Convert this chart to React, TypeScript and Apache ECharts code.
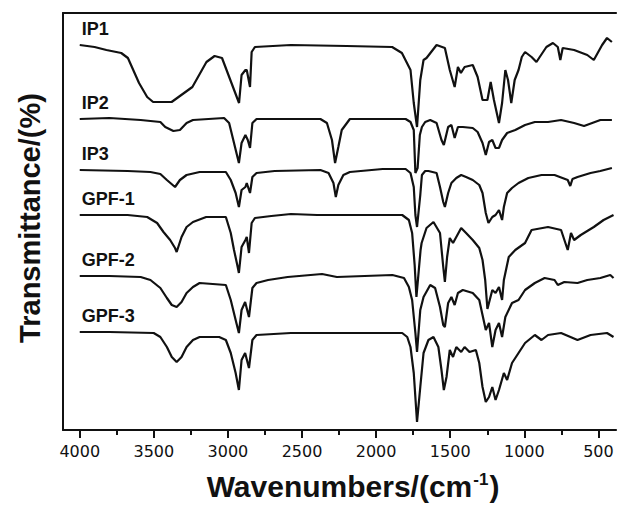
import React, { useEffect, useRef } from "react";
import * as echarts from "echarts";

// Wavenumber (cm^-1) vs stacked transmittance (arbitrary offset units)
const IP1: [number, number][] = [
  [4000, 385], [3900, 383], [3820, 380], [3720, 377], [3675, 372], [3600, 347], [3545, 333], [3505, 328],
  [3380, 328], [3240, 343], [3145, 368], [3090, 374], [3040, 372], [2925, 327], [2908, 355],
  [2882, 360], [2873, 360], [2851, 343], [2840, 378], [2818, 383], [2575, 385], [2200, 384],
  [1892, 383], [1826, 377], [1768, 360], [1746, 327], [1724, 303], [1702, 350], [1680, 370],
  [1660, 372], [1592, 385], [1536, 382], [1503, 360], [1470, 343], [1448, 363], [1428, 357],
  [1403, 363], [1348, 365], [1315, 353], [1282, 330], [1249, 330], [1227, 348], [1205, 330],
  [1171, 307], [1150, 327], [1128, 360], [1110, 350], [1088, 327], [1065, 350], [1039, 360],
  [1017, 373], [995, 378], [951, 373], [918, 368], [896, 373], [851, 383], [807, 387],
  [774, 383], [757, 370], [741, 382], [664, 380], [575, 375], [531, 370], [475, 385],
  [442, 392], [409, 388],
];

const IP2: [number, number][] = [
  [4000, 311], [3800, 312], [3589, 310], [3456, 308], [3423, 303], [3368, 299], [3324, 300],
  [3279, 307], [3236, 310], [3026, 312], [2992, 307], [2959, 287], [2926, 267], [2908, 287],
  [2882, 295], [2866, 290], [2851, 282], [2835, 307], [2807, 311], [2376, 311], [2332, 307],
  [2298, 290], [2277, 267], [2255, 283], [2232, 300], [2177, 311], [1801, 311], [1768, 308],
  [1746, 300], [1735, 257], [1720, 262], [1705, 295], [1691, 303], [1669, 308], [1635, 310],
  [1592, 307], [1559, 290], [1543, 285], [1514, 303], [1492, 305], [1470, 292], [1448, 303],
  [1415, 303], [1348, 302], [1315, 298], [1282, 287], [1260, 275], [1238, 288], [1216, 290],
  [1194, 282], [1171, 282], [1150, 290], [1116, 297], [1061, 300], [995, 305], [929, 308],
  [840, 308], [752, 310], [664, 307], [597, 304], [487, 310], [409, 310],
];

const IP3: [number, number][] = [
  [4000, 260], [3677, 259], [3523, 258], [3456, 256], [3412, 250], [3357, 243], [3324, 250],
  [3279, 255], [3191, 258], [3014, 258], [2981, 250], [2948, 237], [2926, 223], [2908, 240],
  [2882, 243], [2873, 247], [2851, 237], [2835, 253], [2807, 257], [2685, 259], [2376, 260],
  [2321, 257], [2288, 247], [2272, 233], [2255, 245], [2221, 255], [2177, 258], [1956, 261],
  [1801, 261], [1768, 257], [1746, 243], [1735, 215], [1724, 203], [1702, 235], [1691, 255],
  [1669, 259], [1647, 259], [1592, 257], [1569, 243], [1547, 228], [1536, 223], [1514, 237],
  [1492, 247], [1459, 252], [1426, 255], [1393, 253], [1348, 250], [1304, 245], [1282, 237],
  [1260, 217], [1242, 207], [1216, 213], [1194, 215], [1171, 220], [1150, 210], [1138, 223],
  [1116, 237], [1083, 242], [1039, 247], [973, 252], [884, 255], [796, 255], [707, 250],
  [690, 244], [675, 251], [641, 253], [553, 257], [487, 259], [409, 262],
];

const GPF1: [number, number][] = [
  [4000, 215], [3677, 215], [3545, 213], [3478, 207], [3435, 198], [3390, 190], [3357, 182],
  [3346, 178], [3313, 193], [3279, 203], [3236, 208], [3147, 213], [3014, 213], [2981, 197],
  [2959, 180], [2937, 165], [2926, 157], [2908, 183], [2882, 190], [2873, 193], [2858, 177],
  [2840, 207], [2818, 212], [2707, 214], [2575, 216], [2398, 215], [1824, 215], [1779, 210],
  [1757, 197], [1740, 165], [1728, 133], [1712, 160], [1700, 180], [1693, 187], [1660, 202],
  [1613, 208], [1569, 197], [1547, 163], [1536, 148], [1521, 173], [1503, 192], [1481, 187],
  [1459, 193], [1426, 202], [1393, 197], [1348, 190], [1304, 182], [1282, 170], [1264, 150],
  [1249, 121], [1216, 140], [1194, 137], [1171, 143], [1150, 130], [1138, 150], [1105, 173],
  [1061, 180], [995, 187], [951, 200], [840, 203], [752, 200], [707, 180], [685, 197],
  [664, 190], [619, 195], [531, 203], [465, 210], [398, 215],
];

const GPF2: [number, number][] = [
  [4000, 154], [3800, 154], [3589, 153], [3523, 150], [3456, 142], [3412, 132], [3379, 125],
  [3346, 123], [3313, 128], [3279, 137], [3236, 143], [3191, 147], [3014, 145], [2981, 130],
  [2948, 110], [2926, 97], [2908, 120], [2884, 128], [2858, 113], [2835, 142], [2807, 147],
  [2729, 150], [2597, 153], [2365, 156], [2265, 153], [1890, 155], [1812, 152], [1779, 143],
  [1757, 130], [1735, 97], [1724, 78], [1702, 120], [1680, 133], [1635, 145], [1602, 142],
  [1569, 123], [1547, 105], [1536, 103], [1514, 127], [1492, 133], [1470, 125], [1448, 137],
  [1415, 140], [1348, 137], [1304, 130], [1282, 115], [1260, 100], [1238, 107], [1216, 83],
  [1194, 100], [1171, 107], [1150, 93], [1128, 113], [1083, 127], [1039, 130], [995, 140],
  [929, 147], [863, 152], [796, 150], [774, 145], [730, 148], [641, 147], [575, 150],
  [487, 152], [420, 155], [398, 152],
];

const GPF3: [number, number][] = [
  [4000, 98], [3800, 98], [3501, 97], [3456, 93], [3412, 83], [3379, 73], [3346, 68],
  [3313, 73], [3279, 83], [3236, 90], [3191, 93], [3059, 93], [3014, 90], [2981, 77],
  [2948, 57], [2926, 40], [2908, 70], [2884, 77], [2858, 62], [2835, 90], [2807, 95],
  [2575, 97], [2111, 97], [1824, 97], [1790, 93], [1768, 83], [1746, 57], [1724, 8],
  [1702, 43], [1680, 77], [1647, 90], [1613, 93], [1580, 83], [1559, 60], [1543, 40],
  [1525, 53], [1503, 80], [1481, 73], [1459, 83], [1426, 78], [1403, 83], [1370, 78],
  [1327, 80], [1304, 67], [1282, 43], [1260, 28], [1238, 33], [1216, 43], [1194, 30],
  [1171, 40], [1138, 57], [1116, 50], [1083, 67], [1039, 77], [995, 87], [929, 95],
  [884, 90], [840, 95], [752, 97], [641, 90], [553, 95], [442, 97], [398, 93],
];

const SERIES_NAMES = ["IP1", "IP2", "IP3", "GPF-1", "GPF-2", "GPF-3"];
const SERIES_DATA = [IP1, IP2, IP3, GPF1, GPF2, GPF3];

const MAJOR_TICKS = [4000, 3500, 3000, 2500, 2000, 1500, 1000, 500];
const MINOR_TICKS = [3750, 3250, 2750, 2250, 1750, 1250, 750];

const X_MIN = 381;
const X_MAX = 4113;
const Y_MIN = 0;
const Y_MAX = 417;

export default function App() {
  const ref = useRef<HTMLDivElement>(null);

  useEffect(() => {
    if (!ref.current) return;
    const chart = echarts.init(ref.current, undefined, { renderer: "svg" });
    const ink = "#111";
    const baseX = {
      type: "value" as const,
      min: X_MIN,
      max: X_MAX,
      inverse: true,
      gridIndex: 0,
      splitLine: { show: false },
    };
    chart.setOption({
      animation: false,
      backgroundColor: "#fff",
      grid: { left: 63, top: 13, right: 0, bottom: 77, containLabel: false },
      xAxis: [
        {
          ...baseX,
          position: "bottom",
          axisLine: { show: true, onZero: false, lineStyle: { color: ink, width: 2 } },
          axisTick: { show: true, inside: false, length: 8, customValues: MAJOR_TICKS, lineStyle: { color: ink, width: 2 } },
          axisLabel: {
            show: true,
            customValues: MAJOR_TICKS,
            formatter: (v: number) => String(v),
            margin: 13,
            color: ink,
            fontSize: 16,
            fontFamily: "DejaVu Sans",
          },
        },
        {
          ...baseX,
          position: "bottom",
          axisLine: { show: false },
          axisTick: { show: true, inside: false, length: 5, customValues: MINOR_TICKS, lineStyle: { color: ink, width: 2 } },
          axisLabel: { show: false },
        },
        {
          ...baseX,
          position: "top",
          axisLine: { show: true, onZero: false, lineStyle: { color: ink, width: 2 } },
          axisTick: { show: false },
          axisLabel: { show: false },
        },
      ],
      yAxis: {
        type: "value",
        min: Y_MIN,
        max: Y_MAX,
        axisLine: { show: true, onZero: false, lineStyle: { color: ink, width: 2 } },
        axisTick: { show: false },
        axisLabel: { show: false },
        splitLine: { show: false },
      },
      series: SERIES_NAMES.map((name, i) => ({
        name,
        type: "line",
        xAxisIndex: 0,
        yAxisIndex: 0,
        showSymbol: false,
        symbol: "none",
        lineStyle: { color: ink, width: 2.2 },
        data: SERIES_DATA[i],
        markPoint: {
          symbol: "circle",
          symbolSize: 1,
          itemStyle: { color: "rgba(0,0,0,0)" },
          data: [
            {
              coord: SERIES_DATA[i][0],
              label: {
                show: true,
                formatter: name,
                position: "top",
                align: "left",
                distance: 5,
                offset: [2, -2],
                color: ink,
                fontSize: 18,
                fontWeight: "bold",
                fontFamily: "Liberation Sans",
              },
            },
          ],
        },
      })),
      graphic: [
        {
          type: "text",
          x: 30,
          y: 218,
          rotation: Math.PI / 2,
          style: {
            text: "Transmittance/(%)",
            align: "center",
            verticalAlign: "middle",
            fill: ink,
            fontSize: 29,
            fontWeight: "bold",
            fontFamily: "Liberation Sans",
          },
        },
        {
          type: "text",
          x: 353,
          y: 486,
          style: {
            text: "Wavenumbers/(cm{sup|-1})",
            align: "center",
            verticalAlign: "middle",
            fill: ink,
            fontSize: 30,
            fontWeight: "bold",
            fontFamily: "Liberation Sans",
            rich: {
              sup: {
                fontSize: 17,
                fontWeight: "bold",
                fontFamily: "Liberation Sans",
                fill: ink,
                verticalAlign: "top",
                padding: [0, 1, 12, 1],
              },
            },
          },
        },
      ],
    });
    return () => chart.dispose();
  }, []);

  return <div ref={ref} style={{ width: 626, height: 507, position: "fixed", left: 0, top: 0 }} />;
}
